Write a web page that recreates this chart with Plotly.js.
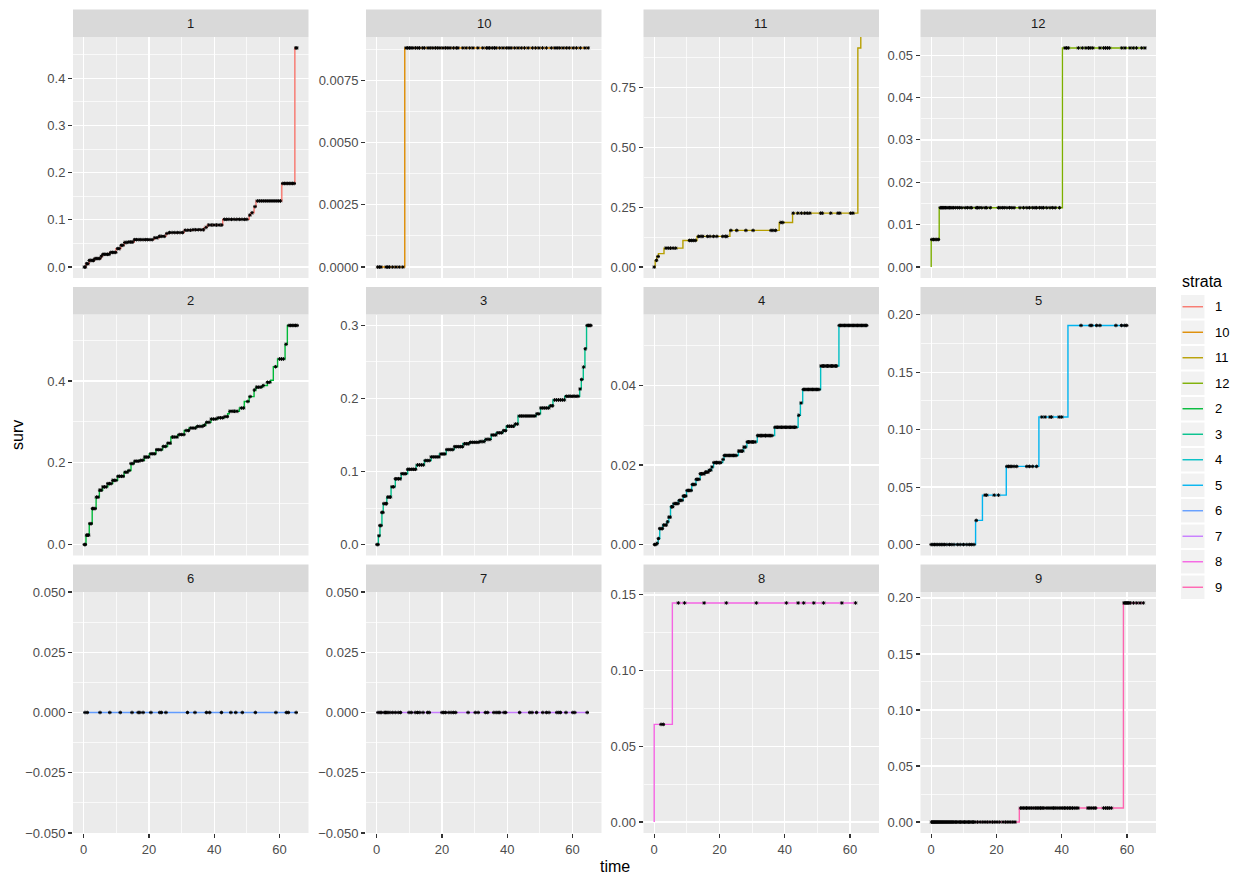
<!DOCTYPE html>
<html>
<head>
<meta charset="utf-8">
<script src="https://cdn.plot.ly/plotly-3.0.1.min.js"></script>
<style>
  html, body { margin: 0; padding: 0; background: #ffffff; }
  #chart { width: 1239px; height: 876px; }
</style>
</head>
<body>
<div id="chart"></div>
<script>
// Strata levels in facet order, with the default hue palette
const strata = ['1', '10', '11', '12', '2', '3', '4', '5', '6', '7', '8', '9'];
const strataColors = ['#F8766D', '#DE8C00', '#B79F00', '#7CAE00', '#00BA38', '#00C08B',
                      '#00BFC4', '#00B4F0', '#619CFF', '#C77CFF', '#F564E3', '#FF64B0'];

// Step curves: time at which each surv value starts; censor times per stratum
const time_1 = [0, 0.7, 1.7, 3.3, 5.3, 5.8, 7.9, 9.9, 11.4, 12.4, 13.5, 15.5, 21.6, 23.2, 25.2, 26.2, 30.8, 33.4, 36.9, 37.9, 42.6, 50.7, 51.2, 52.2, 52.8, 60.7, 64.7, 65.3];
const surv_1 = [0, 0.007, 0.014, 0.018, 0.023, 0.027, 0.031, 0.039, 0.046, 0.052, 0.053, 0.058, 0.062, 0.065, 0.071, 0.073, 0.078, 0.079, 0.084, 0.089, 0.101, 0.110, 0.115, 0.128, 0.140, 0.177, 0.464, 0.464];
const censor_1 = [0.2, 0.5, 0.9, 1.3, 1.7, 2.2, 2.6, 3.0, 3.5, 4.0, 4.4, 4.9, 5.4, 5.9, 6.3, 6.8, 7.3, 7.8, 8.3, 8.8, 9.3, 9.8, 10.4, 10.9, 11.5, 12.0, 12.6, 13.2, 13.8, 14.4, 15.0, 15.6, 16.2, 16.9, 17.5, 18.2, 18.9, 19.6, 20.3, 21.0, 21.8, 22.5, 23.2, 23.9, 24.7, 25.5, 26.3, 27.1, 27.9, 28.7, 29.5, 30.3, 31.1, 31.9, 32.7, 33.5, 34.3, 35.1, 35.9, 36.7, 37.5, 38.3, 39.1, 39.9, 40.7, 41.5, 42.3, 43.1, 43.8, 44.5, 45.3, 46.1, 46.9, 47.7, 48.5, 49.3, 50.0, 50.9, 51.6, 52.5, 53.2, 53.8, 54.4, 55.0, 55.6, 56.2, 56.8, 57.4, 58.0, 58.6, 59.2, 59.8, 60.3, 61.0, 61.5, 62.0, 62.5, 63.0, 63.5, 64.0, 64.5, 65.0, 65.3];

const time_10 = [0, 8.6, 64.9];
const surv_10 = [0, 0.0088, 0.0088];
const censor_10 = [0.3, 0.8, 1.3, 2.9, 3.4, 3.9, 4.9, 5.9, 6.9, 8.0, 9.0, 9.5, 10.0, 10.5, 11.1, 11.9, 12.6, 13.1, 14.1, 14.6, 15.7, 16.4, 17.2, 18.0, 18.7, 19.4, 20.3, 21.1, 21.8, 22.5, 23.5, 24.4, 24.9, 26.4, 27.4, 28.5, 29.5, 31.0, 32.5, 33.6, 34.1, 34.6, 35.4, 36.1, 36.6, 37.7, 38.7, 39.7, 40.5, 41.2, 42.3, 43.3, 44.3, 45.3, 46.4, 47.7, 48.7, 49.7, 50.8, 52.0, 53.5, 54.6, 55.3, 56.1, 57.1, 58.1, 59.0, 60.2, 61.2, 62.4, 63.8, 64.8];

// The last value of stratum 11 is infinite and runs to the panel edge
const time_11 = [0, 0.3, 0.8, 1.3, 3.0, 8.8, 13.1, 23.2, 38.3, 42.4, 62.4, 63.3];
const surv_11 = [0, 0.028, 0.044, 0.056, 0.079, 0.111, 0.128, 0.153, 0.186, 0.225, 0.915, Infinity];
const censor_11 = [0, 0.7, 1.2, 3.6, 4.3, 5.0, 5.8, 6.6, 10.8, 11.4, 12.0, 12.6, 13.6, 14.3, 14.9, 16.3, 17.1, 18.2, 19.2, 21.0, 21.8, 22.3, 23.5, 25.3, 28.1, 30.3, 35.8, 36.4, 37.2, 38.8, 39.4, 42.6, 44.0, 45.1, 46.1, 46.9, 47.7, 51.0, 51.5, 54.1, 56.3, 56.9, 60.2, 60.9];

const time_12 = [0, 0, 2.45, 40.2, 65.5];
const surv_12 = [0, 0.0065, 0.0140, 0.0517, 0.0517];
const censor_12 = [0.2, 0.7, 1.2, 1.7, 2.2, 2.8, 3.1, 3.4, 3.7, 4.0, 4.4, 4.8, 5.2, 5.6, 6.0, 6.4, 6.8, 7.4, 8.1, 8.7, 9.4, 10.4, 11.1, 11.9, 12.4, 13.8, 14.2, 14.7, 15.5, 16.5, 17.0, 18.1, 20.6, 21.1, 21.8, 22.4, 23.2, 24.0, 24.7, 25.4, 27.2, 28.3, 29.3, 30.1, 31.1, 31.8, 32.3, 33.2, 33.9, 34.4, 35.4, 36.4, 37.2, 38.0, 39.3, 41.0, 41.5, 42.0, 45.1, 46.3, 47.4, 48.2, 48.7, 49.5, 51.7, 52.8, 53.4, 54.0, 54.6, 58.4, 59.4, 60.9, 61.9, 62.9, 64.5, 65.5];

const time_2 = [0, 0.7, 1.7, 2.6, 3.8, 4.8, 5.8, 7.4, 8.9, 10.4, 12.4, 13.5, 14.5, 15.5, 17.0, 18.6, 20.1, 22.1, 24.2, 25.7, 26.7, 28.8, 30.8, 32.3, 34.4, 36.4, 37.4, 39.0, 41.0, 43.1, 44.1, 44.6, 47.7, 49.2, 50.7, 52.2, 52.8, 54.8, 56.3, 57.3, 58.1, 59.4, 61.7, 62.4, 65.5];
const surv_2 = [0, 0.023, 0.051, 0.088, 0.116, 0.133, 0.141, 0.149, 0.157, 0.167, 0.177, 0.181, 0.198, 0.204, 0.206, 0.214, 0.222, 0.232, 0.240, 0.248, 0.263, 0.269, 0.279, 0.285, 0.289, 0.292, 0.299, 0.307, 0.310, 0.313, 0.320, 0.326, 0.334, 0.350, 0.362, 0.378, 0.385, 0.389, 0.397, 0.402, 0.435, 0.454, 0.490, 0.536, 0.536];
const censor_2 = [0.2, 0.5, 0.9, 1.2, 1.5, 1.9, 2.3, 2.7, 3.1, 3.5, 3.9, 4.4, 4.9, 5.4, 5.9, 6.4, 6.9, 7.4, 7.9, 8.4, 8.9, 9.4, 9.9, 10.5, 11.0, 11.6, 12.1, 12.7, 13.3, 13.9, 14.5, 15.1, 15.7, 16.3, 16.9, 17.5, 18.1, 18.7, 19.3, 19.9, 20.6, 21.2, 21.8, 22.4, 23.0, 23.7, 24.4, 25.1, 25.8, 26.5, 27.2, 27.9, 28.6, 29.3, 30.0, 30.7, 31.4, 32.1, 32.8, 33.5, 34.2, 34.9, 35.6, 36.3, 37.0, 37.7, 38.4, 39.1, 39.8, 40.5, 41.2, 41.9, 42.6, 43.3, 44.0, 44.8, 45.5, 46.2, 47.0, 48.3, 49.0, 50.3, 51.0, 52.3, 53.0, 53.6, 54.3, 55.0, 56.3, 57.0, 58.8, 60.0, 60.6, 61.2, 62.0, 62.9, 63.4, 63.9, 64.4, 64.9, 65.4];

const time_3 = [0, 0.5, 1.0, 1.6, 2.0, 3.1, 4.4, 5.7, 7.5, 9.5, 12.1, 14.6, 16.7, 19.2, 21.3, 23.8, 26.4, 28.5, 31.5, 33.1, 35.1, 36.6, 38.7, 39.7, 42.3, 43.3, 48.9, 50.2, 52.8, 54.0, 57.6, 62.2, 62.7, 63.3, 63.8, 64.3, 65.6];
const surv_3 = [0, 0.012, 0.026, 0.044, 0.056, 0.065, 0.079, 0.090, 0.097, 0.103, 0.109, 0.115, 0.120, 0.124, 0.130, 0.134, 0.138, 0.140, 0.141, 0.144, 0.150, 0.153, 0.156, 0.162, 0.165, 0.176, 0.179, 0.187, 0.190, 0.198, 0.203, 0.213, 0.226, 0.243, 0.268, 0.300, 0.300];
const censor_3 = [0.1, 0.4, 0.7, 1.0, 1.3, 1.6, 1.9, 2.2, 2.6, 3.0, 3.4, 3.8, 4.2, 4.7, 5.2, 5.7, 6.2, 6.7, 7.2, 7.7, 8.3, 8.9, 9.5, 10.1, 10.7, 11.3, 11.9, 12.5, 13.1, 13.7, 14.3, 14.9, 15.5, 16.1, 16.7, 17.3, 17.9, 18.5, 19.1, 19.7, 20.3, 20.9, 21.5, 22.1, 22.7, 23.3, 23.9, 24.5, 25.1, 25.7, 26.3, 26.9, 27.5, 28.1, 28.7, 29.3, 29.9, 30.5, 31.1, 31.7, 32.3, 32.9, 33.5, 34.1, 34.7, 35.3, 35.9, 36.5, 37.1, 37.7, 38.3, 38.9, 39.5, 40.1, 40.7, 41.3, 41.9, 42.5, 43.1, 43.7, 44.3, 44.9, 45.5, 46.1, 46.7, 47.3, 47.9, 48.5, 49.1, 49.7, 50.3, 50.9, 51.5, 52.1, 52.7, 53.3, 53.9, 54.5, 55.1, 55.7, 56.3, 56.9, 57.5, 58.1, 58.7, 59.3, 59.9, 60.5, 61.1, 61.7, 62.3, 62.8, 63.4, 63.9, 64.5, 64.9, 65.3, 65.6];

const time_4 = [0, 0.7, 1.2, 1.7, 2.6, 3.8, 4.5, 5.0, 5.8, 7.4, 8.9, 9.9, 11.5, 12.8, 14.1, 15.6, 16.6, 17.6, 18.2, 21.0, 21.4, 25.8, 27.4, 28.4, 31.6, 36.9, 44.1, 44.8, 45.5, 51.0, 56.6, 65.3];
const surv_4 = [0, 0.0003, 0.0015, 0.0040, 0.0049, 0.0057, 0.0069, 0.0095, 0.0103, 0.0111, 0.0122, 0.0136, 0.0151, 0.0164, 0.0178, 0.0182, 0.0187, 0.0195, 0.0206, 0.0214, 0.0224, 0.0235, 0.0245, 0.0258, 0.0274, 0.0295, 0.0325, 0.0356, 0.0390, 0.0449, 0.0551, 0.0551];
const censor_4 = [0.1, 0.5, 0.9, 1.3, 1.7, 2.1, 2.5, 2.9, 3.3, 3.7, 4.1, 4.5, 4.9, 5.3, 5.7, 6.1, 6.5, 6.9, 7.3, 7.7, 8.1, 8.5, 8.9, 9.3, 9.7, 10.1, 10.5, 10.9, 11.3, 11.7, 12.1, 12.5, 12.9, 13.3, 13.7, 14.1, 14.5, 14.9, 15.3, 15.7, 16.1, 16.5, 16.9, 17.3, 17.7, 18.3, 18.7, 19.1, 19.5, 19.9, 20.4, 21.1, 21.5, 21.9, 22.3, 22.7, 23.1, 23.5, 23.9, 24.3, 24.7, 25.1, 25.9, 26.3, 26.7, 27.1, 27.5, 27.9, 28.5, 28.9, 29.3, 29.7, 30.1, 30.5, 30.9, 31.7, 32.1, 32.5, 32.9, 33.3, 33.7, 34.1, 34.5, 34.9, 35.3, 35.7, 36.1, 37.0, 37.4, 37.8, 38.2, 38.6, 39.0, 39.4, 39.8, 40.2, 40.6, 41.0, 41.4, 41.8, 42.2, 42.6, 43.0, 43.4, 44.3, 45.0, 45.7, 46.1, 46.5, 46.9, 47.3, 47.7, 48.1, 48.5, 48.9, 49.3, 49.7, 50.1, 50.5, 51.1, 51.5, 51.9, 52.3, 52.7, 53.1, 53.5, 53.9, 54.3, 54.7, 55.1, 55.5, 55.9, 56.7, 57.1, 57.5, 57.9, 58.3, 58.7, 59.1, 59.5, 59.9, 60.3, 60.7, 61.1, 61.5, 61.9, 62.3, 62.7, 63.1, 63.5, 63.9, 64.3, 64.7, 65.1];

const time_5 = [0, 13.6, 15.7, 23.0, 33.0, 41.9, 59.9];
const surv_5 = [0, 0.021, 0.043, 0.068, 0.111, 0.1907, 0.1907];
const censor_5 = [0, 0.5, 1.0, 1.5, 2.0, 2.6, 3.1, 3.6, 4.1, 4.8, 5.6, 6.3, 7.0, 8.1, 8.9, 9.9, 10.9, 11.7, 12.4, 13.1, 13.8, 16.5, 17.0, 19.3, 20.6, 23.2, 23.7, 24.2, 24.7, 25.4, 26.2, 29.3, 30.1, 31.1, 32.3, 33.9, 34.9, 36.4, 36.9, 39.2, 40.0, 45.9, 48.7, 49.2, 50.7, 51.7, 56.6, 58.3, 59.3, 59.9];

const time_6 = [0, 65.1];
const surv_6 = [0, 0];
const censor_6 = [0.4, 1.1, 5.0, 8.0, 11.2, 14.8, 16.7, 17.2, 18.2, 20.6, 23.3, 23.8, 25.2, 31.8, 34.1, 37.6, 38.6, 42.2, 45.1, 46.6, 48.6, 52.6, 58.9, 62.1, 62.7, 65.1];

const time_7 = [0, 64.5];
const surv_7 = [0, 0];
const censor_7 = [0.4, 1.0, 1.4, 2.3, 2.7, 3.1, 3.5, 4.1, 4.9, 5.7, 6.6, 7.3, 9.9, 10.6, 11.8, 12.5, 13.2, 14.2, 15.6, 16.1, 20.0, 20.5, 21.1, 22.1, 22.8, 23.5, 24.2, 28.0, 30.2, 31.1, 33.3, 34.0, 35.9, 36.6, 37.2, 37.7, 39.0, 39.5, 43.8, 46.9, 47.6, 49.0, 50.9, 52.0, 52.8, 55.2, 55.8, 56.3, 58.0, 60.1, 60.7, 64.5];

const time_8 = [0, 0, 5.56, 61.9];
const surv_8 = [0, 0.0645, 0.1447, 0.1447];
const censor_8 = [2.1, 2.8, 7.4, 9.3, 15.3, 22.1, 31.3, 40.5, 44.1, 45.8, 48.9, 51.9, 57.5, 61.7];

const time_9 = [0, 27.0, 58.9, 65.1];
const surv_9 = [0, 0.0125, 0.1955, 0.1955];
const censor_9 = [0.1, 0.4, 0.7, 1.0, 1.3, 1.6, 1.9, 2.2, 2.5, 2.8, 3.1, 3.4, 3.7, 4.0, 4.3, 4.6, 4.9, 5.2, 5.5, 5.8, 6.1, 6.4, 6.7, 7.0, 7.4, 7.8, 8.2, 8.6, 9.0, 9.4, 9.8, 10.2, 10.6, 11.0, 11.4, 11.8, 12.2, 12.6, 13.0, 13.4, 14.2, 15.0, 15.8, 16.5, 17.2, 18.0, 18.8, 19.5, 20.2, 21.0, 22.0, 22.8, 23.5, 24.2, 25.0, 25.7, 27.4, 27.8, 28.2, 28.7, 29.2, 29.7, 30.2, 30.8, 31.4, 32.0, 32.5, 33.0, 33.5, 34.0, 34.5, 35.2, 35.8, 36.4, 37.0, 37.5, 38.0, 38.6, 39.2, 39.8, 40.3, 40.8, 41.3, 41.8, 42.3, 42.8, 43.3, 43.8, 44.4, 45.0, 48.0, 48.6, 49.2, 49.8, 50.4, 52.8, 53.4, 54.0, 54.6, 55.2, 59.1, 59.4, 59.7, 60.0, 60.3, 60.6, 61.0, 62.0, 63.0, 64.0, 65.0];

// Per-stratum series, in facet order
const curves = {
  '1':  { time: time_1,  surv: surv_1,  censor: censor_1 },
  '10': { time: time_10, surv: surv_10, censor: censor_10 },
  '11': { time: time_11, surv: surv_11, censor: censor_11 },
  '12': { time: time_12, surv: surv_12, censor: censor_12 },
  '2':  { time: time_2,  surv: surv_2,  censor: censor_2 },
  '3':  { time: time_3,  surv: surv_3,  censor: censor_3 },
  '4':  { time: time_4,  surv: surv_4,  censor: censor_4 },
  '5':  { time: time_5,  surv: surv_5,  censor: censor_5 },
  '6':  { time: time_6,  surv: surv_6,  censor: censor_6 },
  '7':  { time: time_7,  surv: surv_7,  censor: censor_7 },
  '8':  { time: time_8,  surv: surv_8,  censor: censor_8 },
  '9':  { time: time_9,  surv: surv_9,  censor: censor_9 }
};

// y-axis break spacing and label format for each facet (free y scales)
const yBreakStep = [0.1, 0.0025, 0.25, 0.01, 0.2, 0.1, 0.02, 0.05, 0.025, 0.025, 0.05, 0.05];
const yLabelFormat = ['.1f', '.4f', '.2f', '.2f', '.1f', '.1f', '.2f', '.2f', '.3f', '.3f', '.2f', '.2f'];

// ---- page geometry (pixels) ----
const W = 1239, H = 876;
const colLeft = [73, 366, 643.5, 920.5];
const rowTop = [37, 314.5, 592];
const panelW = 235.5, panelH = 241, stripH = 27.5;
const px = v => v / W;
const py = v => 1 - v / H;

const FONT = 'Liberation Sans, Arial, Helvetica, sans-serif';

// value of a step curve at time t
function stepValue(c, t) {
  let v = c.surv[0];
  for (let i = 0; i < c.time.length; i++) {
    if (c.time[i] <= t) v = c.surv[i]; else break;
  }
  return v;
}

// expanded continuous range (5% each side), zero-width gets +/-0.05
function expandRange(vals) {
  const f = vals.filter(Number.isFinite);
  const lo = Math.min(...f), hi = Math.max(...f);
  if (hi - lo === 0) return [lo - 0.05, hi + 0.05];
  const pad = (hi - lo) * 0.05;
  return [lo - pad, hi + pad];
}

const allTimes = [];
strata.forEach(s => { allTimes.push(...curves[s].time, ...curves[s].censor); });
const xRange = expandRange(allTimes.concat([0]));

const traces = [];
const layout = {
  width: W, height: H,
  margin: { l: 0, r: 0, t: 0, b: 0 },
  paper_bgcolor: '#FFFFFF',
  plot_bgcolor: '#EBEBEB',
  showlegend: false,
  font: { family: FONT, color: '#4D4D4D', size: 13 },
  shapes: [],
  annotations: []
};

strata.forEach((s, i) => {
  const row = Math.floor(i / 4), col = i % 4;
  const n = i + 1;
  const xa = 'x' + (n === 1 ? '' : n), ya = 'y' + (n === 1 ? '' : n);
  const xKey = 'xaxis' + (n === 1 ? '' : n), yKey = 'yaxis' + (n === 1 ? '' : n);
  const c = curves[s];
  const yr = expandRange(c.surv);
  const isBottom = row === 2;

  const left = colLeft[col], top = rowTop[row];

  layout[xKey] = {
    domain: [px(left), px(left + panelW)],
    anchor: ya,
    range: xRange,
    dtick: 20, tick0: 0,
    showgrid: true, gridcolor: '#FFFFFF', gridwidth: 1.3,
    minor: { dtick: 10, tick0: 0, showgrid: true, gridcolor: '#FFFFFF', gridwidth: 0.7 },
    zeroline: false, showline: false,
    ticks: isBottom ? 'outside' : '', ticklen: 4, tickwidth: 1.1, tickcolor: '#333333',
    showticklabels: isBottom,
    tickfont: { family: FONT, size: 13, color: '#4D4D4D' },
    fixedrange: true
  };
  layout[yKey] = {
    domain: [py(top + panelH), py(top)],
    anchor: xa,
    range: [yr[0] - (yr[1] - yr[0]) * 1e-6, yr[1] + (yr[1] - yr[0]) * 1e-6],
    dtick: yBreakStep[i], tick0: 0,
    tickformat: yLabelFormat[i],
    showgrid: true, gridcolor: '#FFFFFF', gridwidth: 1.3,
    minor: { dtick: yBreakStep[i] / 2, tick0: 0, showgrid: true, gridcolor: '#FFFFFF', gridwidth: 0.7 },
    zeroline: false, showline: false,
    ticks: 'outside', ticklen: 4, tickwidth: 1.1, tickcolor: '#333333',
    tickfont: { family: FONT, size: 13, color: '#4D4D4D' },
    fixedrange: true
  };

  // step line; an infinite value is drawn at the panel's upper edge
  const yTop = yr[1] + (yr[1] - yr[0]);
  traces.push({
    type: 'scatter', mode: 'lines',
    x: c.time,
    y: c.surv.map(v => Number.isFinite(v) ? v : yTop),
    xaxis: xa, yaxis: ya,
    line: { shape: 'hv', color: strataColors[i], width: 1.4 },
    hoverinfo: 'skip'
  });
  // censoring marks
  traces.push({
    type: 'scatter', mode: 'markers',
    x: c.censor,
    y: c.censor.map(t => stepValue(c, t)),
    xaxis: xa, yaxis: ya,
    marker: { symbol: 'asterisk-open', size: 3, color: '#000000', line: { color: '#000000', width: 1 } },
    hoverinfo: 'skip'
  });

  // facet strip
  layout.shapes.push({
    type: 'rect', xref: 'paper', yref: 'paper', layer: 'below',
    x0: px(left), x1: px(left + panelW), y0: py(top), y1: py(top - stripH),
    fillcolor: '#D9D9D9', line: { width: 0 }
  });
  layout.annotations.push({
    xref: 'paper', yref: 'paper', x: px(left + panelW / 2), y: py(top - stripH / 2),
    text: s, showarrow: false, xanchor: 'center', yanchor: 'middle',
    font: { family: FONT, size: 13, color: '#1A1A1A' }
  });
});

// axis titles
layout.annotations.push({
  xref: 'paper', yref: 'paper', x: px((colLeft[0] + colLeft[3] + panelW) / 2), y: py(866),
  text: 'time', showarrow: false, xanchor: 'center', yanchor: 'middle',
  font: { family: FONT, size: 16, color: '#000000' }
});
layout.annotations.push({
  xref: 'paper', yref: 'paper', x: px(17), y: py((rowTop[0] + rowTop[2] + panelH) / 2),
  text: 'surv', showarrow: false, textangle: -90, xanchor: 'center', yanchor: 'middle',
  font: { family: FONT, size: 16, color: '#000000' }
});

// legend: title, keys and labels
const legLeft = 1181, legTop = 295, keySize = 23.5, keyPitch = 25.5;
layout.annotations.push({
  xref: 'paper', yref: 'paper', x: px(legLeft - 1), y: py(legTop - 14),
  text: 'strata', showarrow: false, xanchor: 'left', yanchor: 'middle',
  font: { family: FONT, size: 16, color: '#000000' }
});
strata.forEach((s, k) => {
  const top = legTop + k * keyPitch;
  layout.shapes.push({
    type: 'rect', xref: 'paper', yref: 'paper',
    x0: px(legLeft), x1: px(legLeft + keySize), y0: py(top), y1: py(top + keySize),
    fillcolor: '#F2F2F2', line: { width: 0 }
  });
  layout.shapes.push({
    type: 'line', xref: 'paper', yref: 'paper',
    x0: px(legLeft + 1.5), x1: px(legLeft + keySize - 1.5),
    y0: py(top + keySize / 2), y1: py(top + keySize / 2),
    line: { color: strataColors[k], width: 1.4 }
  });
  layout.annotations.push({
    xref: 'paper', yref: 'paper', x: px(legLeft + keySize + 8), y: py(top + keySize / 2),
    text: s, showarrow: false, xanchor: 'left', yanchor: 'middle',
    font: { family: FONT, size: 13, color: '#000000' }
  });
});

Plotly.newPlot('chart', traces, layout, { displayModeBar: false, staticPlot: true });
</script>
</body>
</html>
